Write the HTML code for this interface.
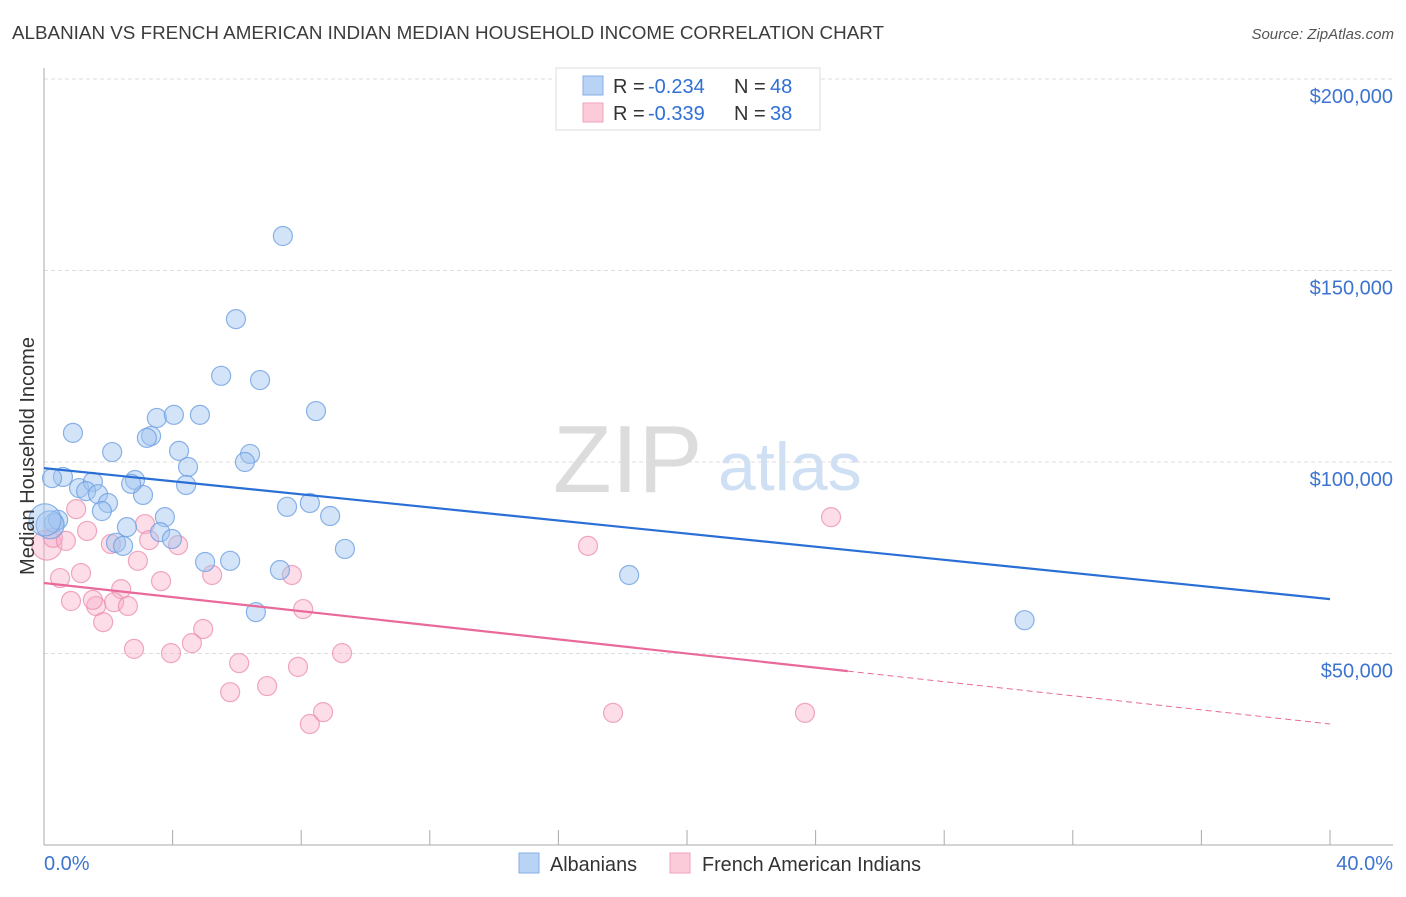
<!DOCTYPE html>
<html><head><meta charset="utf-8"><style>
body{margin:0;background:#fff;font-family:"Liberation Sans",sans-serif}
svg text{font-family:"Liberation Sans",sans-serif}
</style></head><body>
<svg id="chart" width="1406" height="892" xmlns="http://www.w3.org/2000/svg">
<text x="12" y="39" font-size="18" fill="#3c3c3c" textLength="872" lengthAdjust="spacingAndGlyphs">ALBANIAN VS FRENCH AMERICAN INDIAN MEDIAN HOUSEHOLD INCOME CORRELATION CHART</text>
<text x="1394" y="39" font-size="15" fill="#555" font-style="italic" text-anchor="end">Source: ZipAtlas.com</text>
<g>
<text x="553" y="492" font-size="96" font-family="Liberation Serif,serif" fill="#dcdcdc">ZIP</text>
<text x="718" y="490" font-size="68" fill="#cfe0f5">atlas</text>
</g>
<g id="grid"></g>
<g id="axes"></g>
<g id="marks"></g>
<g id="lines"></g>
<text transform="translate(34,456) rotate(-90)" font-size="20" fill="#333" text-anchor="middle">Median Household Income</text>
<text x="44" y="870" font-size="20" fill="#3d74d0">0.0%</text>
<text x="1393" y="870" font-size="20" fill="#3d74d0" text-anchor="end">40.0%</text>
<g>
<rect x="556" y="68" width="264" height="62" fill="#fff" stroke="#ddd"/>
<rect x="583" y="76" width="20" height="19" fill="#b9d3f5" stroke="#88aee6"/>
<rect x="583" y="103" width="20" height="19" fill="#fbcbda" stroke="#f0a3bc"/>
<text x="613" y="93" font-size="20" fill="#333">R =</text>
<text x="648" y="93" font-size="20" fill="#2f6fd6">-0.234</text>
<text x="734" y="93" font-size="20" fill="#333">N =</text>
<text x="770" y="93" font-size="20" fill="#2f6fd6">48</text>
<text x="613" y="120" font-size="20" fill="#333">R =</text>
<text x="648" y="120" font-size="20" fill="#2f6fd6">-0.339</text>
<text x="734" y="120" font-size="20" fill="#333">N =</text>
<text x="770" y="120" font-size="20" fill="#2f6fd6">38</text>
</g>
<g>
<rect x="519" y="853" width="20" height="20" fill="#b9d3f5" stroke="#88aee6"/>
<text x="550" y="871" font-size="20" fill="#333" textLength="87" lengthAdjust="spacingAndGlyphs">Albanians</text>
<rect x="670" y="853" width="20" height="20" fill="#fbcbda" stroke="#f0a3bc"/>
<text x="702" y="871" font-size="20" fill="#333" textLength="219" lengthAdjust="spacingAndGlyphs">French American Indians</text>
</g>
</svg>
<script>
const yTicks=[50000,100000,150000,200000];
const yTickLabels=["$50,000","$100,000","$150,000","$200,000"];
const blueX=[7.43,5.97,5.51,6.72,8.46,3.51,4.04,4.85,0.90,3.33,3.20,2.12,4.20,6.41,6.25,4.48,0.59,0.25,2.83,1.09,1.52,1.31,1.68,3.08,2.71,1.99,4.42,1.80,3.76,7.56,8.27,8.90,2.58,3.61,0.31,0.44,3.98,2.24,2.46,9.36,5.01,5.79,7.34,18.2,6.59,30.5,0.19,0.03];
const blueY=[159000,137300,122500,121400,113300,111500,112300,112300,107600,106800,106300,102600,102900,102100,100000,98700,96100,95800,95300,93200,94800,92400,91600,91400,94300,89300,94000,87200,85600,88300,89300,85900,83000,81700,84100,84900,79900,78900,78100,77300,73900,74200,71800,70500,60800,58700,83600,84900];
const blueR=[9.5,9.5,9.5,9.5,9.5,9.5,9.5,9.5,9.5,9.5,9.5,9.5,9.5,9.5,9.5,9.5,9.5,9.5,9.5,9.5,9.5,9.5,9.5,9.5,9.5,9.5,9.5,9.5,9.5,9.5,9.5,9.5,9.5,9.5,9.5,9.5,9.5,9.5,9.5,9.5,9.5,9.5,9.5,9.5,9.5,9.5,14,16];
const pinkX=[0.09,0.28,0.68,1.0,1.34,3.14,3.27,4.17,2.08,2.92,0.5,1.15,2.40,3.64,5.23,7.71,0.84,1.62,2.18,2.61,1.84,8.06,4.95,2.80,3.95,4.60,6.07,7.90,9.27,5.79,6.94,8.68,8.27,16.92,17.70,23.67,24.48,1.52];
const pinkY=[78300,80200,79400,87700,82000,83800,79600,78300,78600,74200,69700,71000,66800,68900,70500,70500,63700,62400,63400,62400,58200,61600,56400,51200,50100,52700,47500,46500,50100,39900,41500,34700,31600,78100,34500,34500,85600,64000];
const blueTrend=[98400,64200];
const pinkTrend=[68400,31600];
const pinkSolidEnd=25.0;
const NS="http://www.w3.org/2000/svg";
const X=p=>44+p*(1286/40);
const Y=v=>845-v*(191.5/50000);
function mk(tag,attrs,parent){const e=document.createElementNS(NS,tag);for(const k in attrs)e.setAttribute(k,attrs[k]);document.getElementById(parent).appendChild(e);return e;}
yTicks.forEach((t,i)=>{
 const l=mk('line',{x1:44,x2:1393,y1:Y(t),y2:Y(t),stroke:'#ddd','stroke-dasharray':'4,3'},'grid');
 
 
 const tx=mk('text',{x:1393,y:Y(t)+24,'font-size':20,fill:'#3d74d0','text-anchor':'end'},'grid');
 tx.textContent=yTickLabels[i];
 
 
});
const ax=mk('line',{x1:44,x2:44,y1:68,y2:845,stroke:'#aaa'},'axes');


const bx=mk('line',{x1:44,x2:1393,y1:845,y2:845,stroke:'#aaa'},'axes');


for(let p=0;p<=40;p+=4){const t=mk('line',{x1:X(p),x2:X(p),y1:830,y2:845,stroke:'#aaa'},'axes');
 
 }
pinkX.forEach((p,i)=>{const c=mk('circle',{cx:X(p),cy:Y(pinkY[i]),r:i==0?15:9.5,fill:'rgba(247,175,200,0.42)',stroke:'rgba(235,140,172,0.75)','stroke-width':1.2},'marks');
 
 });
blueX.forEach((p,i)=>{const c=mk('circle',{cx:X(p),cy:Y(blueY[i]),r:blueR[i],fill:'rgba(160,196,240,0.45)',stroke:'rgba(110,160,225,0.8)','stroke-width':1.2},'marks');
 
 });
const bl=mk('line',{x1:X(0),y1:Y(blueTrend[0]),x2:X(40),y2:Y(blueTrend[1]),stroke:'#2a6fd6','stroke-width':2.2},'lines');


const pm=pinkTrend[0]+(pinkTrend[1]-pinkTrend[0])*pinkSolidEnd/40;
const pl=mk('line',{x1:X(0),y1:Y(pinkTrend[0]),x2:X(pinkSolidEnd),y2:Y(pm),stroke:'#e8699a','stroke-width':2.2},'lines');


const pd=mk('line',{x1:X(pinkSolidEnd),y1:Y(pm),x2:X(40),y2:Y(pinkTrend[1]),stroke:'#e8699a','stroke-width':1,'stroke-dasharray':'6,4'},'lines');


</script>
</body></html>
